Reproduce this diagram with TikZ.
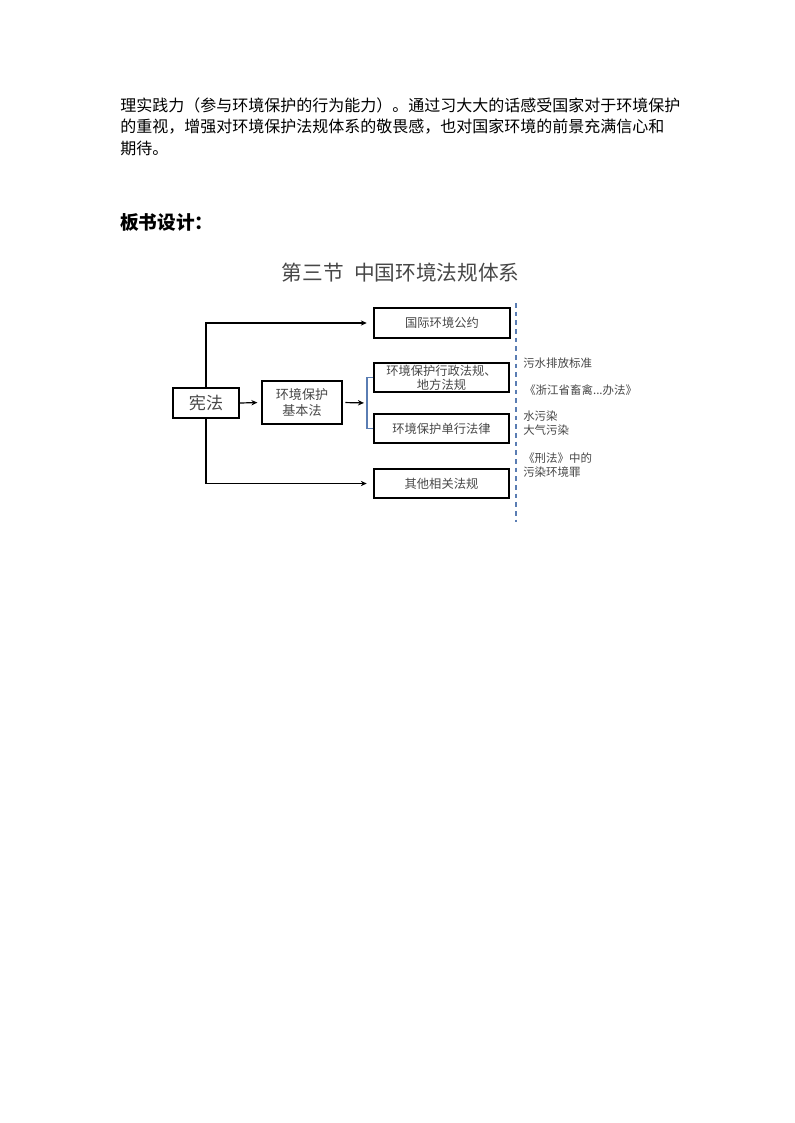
\documentclass[tikz,border=0pt]{standalone}
\usepackage{fontspec}
\setmainfont{Noto Sans CJK SC}
\usepackage{xcolor}
\usepackage{tikz}
\usetikzlibrary{arrows.meta}

\definecolor{txtgray}{HTML}{474747}
\definecolor{lineblue}{HTML}{5A7DB3}

\tikzset{
  lawbox/.style={draw=black, line width=0.9pt, inner sep=0pt, text=txtgray, align=center,
    font=\fontsize{9.2}{10.5}\selectfont},
  link/.style={line width=0.9pt, -{Stealth[length=4.5pt,width=4pt]}},
  note/.style={anchor=west, inner sep=0pt, text=txtgray, align=left,
    font=\fontsize{8.6}{10.5}\selectfont},
  bodytxt/.style={anchor=west, inner sep=0pt, font=\fontsize{12}{16}\selectfont}
}

\begin{document}
\begin{tikzpicture}[x=0.75pt, y=-0.75pt]

\useasboundingbox (0,0) rectangle (794,1123);

% text above the diagram
\node[bodytxt] (line1) at (120,105) {理实践力（参与环境保护的行为能力）。通过习大大的话感受国家对于环境保护};
\node[bodytxt] (line2) at (120,126.5) {的重视，增强对环境保护法规体系的敬畏感，也对国家环境的前景充满信心和};
\node[bodytxt] (line3) at (120,148) {期待。};

\node[anchor=west, inner sep=0pt, font=\fontsize{14}{16}\selectfont\bfseries] (bsheji) at (120,222) {板书设计：};

% title
\node[text=txtgray, font=\fontsize{15.5}{18}\selectfont] (title) at (400.5,273) {第三节\hspace{0.5em}中国环境法规体系};

% boxes
\node[lawbox, minimum width=49.5pt, minimum height=22.5pt, font=\fontsize{12.8}{14}\selectfont] (xianfa) at (206,403) {宪法};
\node[lawbox, minimum width=60pt, minimum height=32.25pt, font=\fontsize{9.8}{12}\selectfont] (jiben) at (302,402.5) {环境保护\\基本法};

\node[lawbox, minimum width=102pt, minimum height=22.5pt] (guoji) at (442,323) {国际环境公约};
\node[lawbox, minimum width=101.25pt, minimum height=21.75pt] (xingzheng) at (441.5,377.5) {环境保护行政法规、\\地方法规};
\node[lawbox, minimum width=101.25pt, minimum height=21.75pt] (danxing) at (441.5,428.5) {环境保护单行法律};
\node[lawbox, minimum width=101.25pt, minimum height=21.75pt] (qita) at (441.5,483.5) {其他相关法规};

% connectors
\coordinate (brk) at (367,403);

\draw[link, shorten >=5pt] (xianfa.north) |- (guoji.west);
\draw[link, shorten >=5pt] (xianfa.south) |- (qita.west);
\draw[link, shorten >=3pt] (xianfa.east) -- (jiben.west);
\draw[link, shorten <=2pt, shorten >=2.3pt] (jiben.east) -- (brk);

\draw[color=lineblue, line width=0.9pt] (xingzheng.west) -| (brk) |- (danxing.west);

% dashed divider
\coordinate (dtop) at (516,303);
\coordinate (dbot) at (516,522);
\draw[color=lineblue, line width=0.8pt, dash pattern=on 3.5pt off 3pt] (dtop) -- (dbot);

% notes on the right
\node[note] (wushui) at (523,363) {污水排放标准};
\node[note] (zhejiang) at (524,390) {《浙江省畜禽...办法》};
\node[note] (shuiqi) at (523,423) {水污染\\大气污染};
\node[note] (xingfa) at (523,465) {《刑法》中的\\污染环境罪};

\end{tikzpicture}
\end{document}
